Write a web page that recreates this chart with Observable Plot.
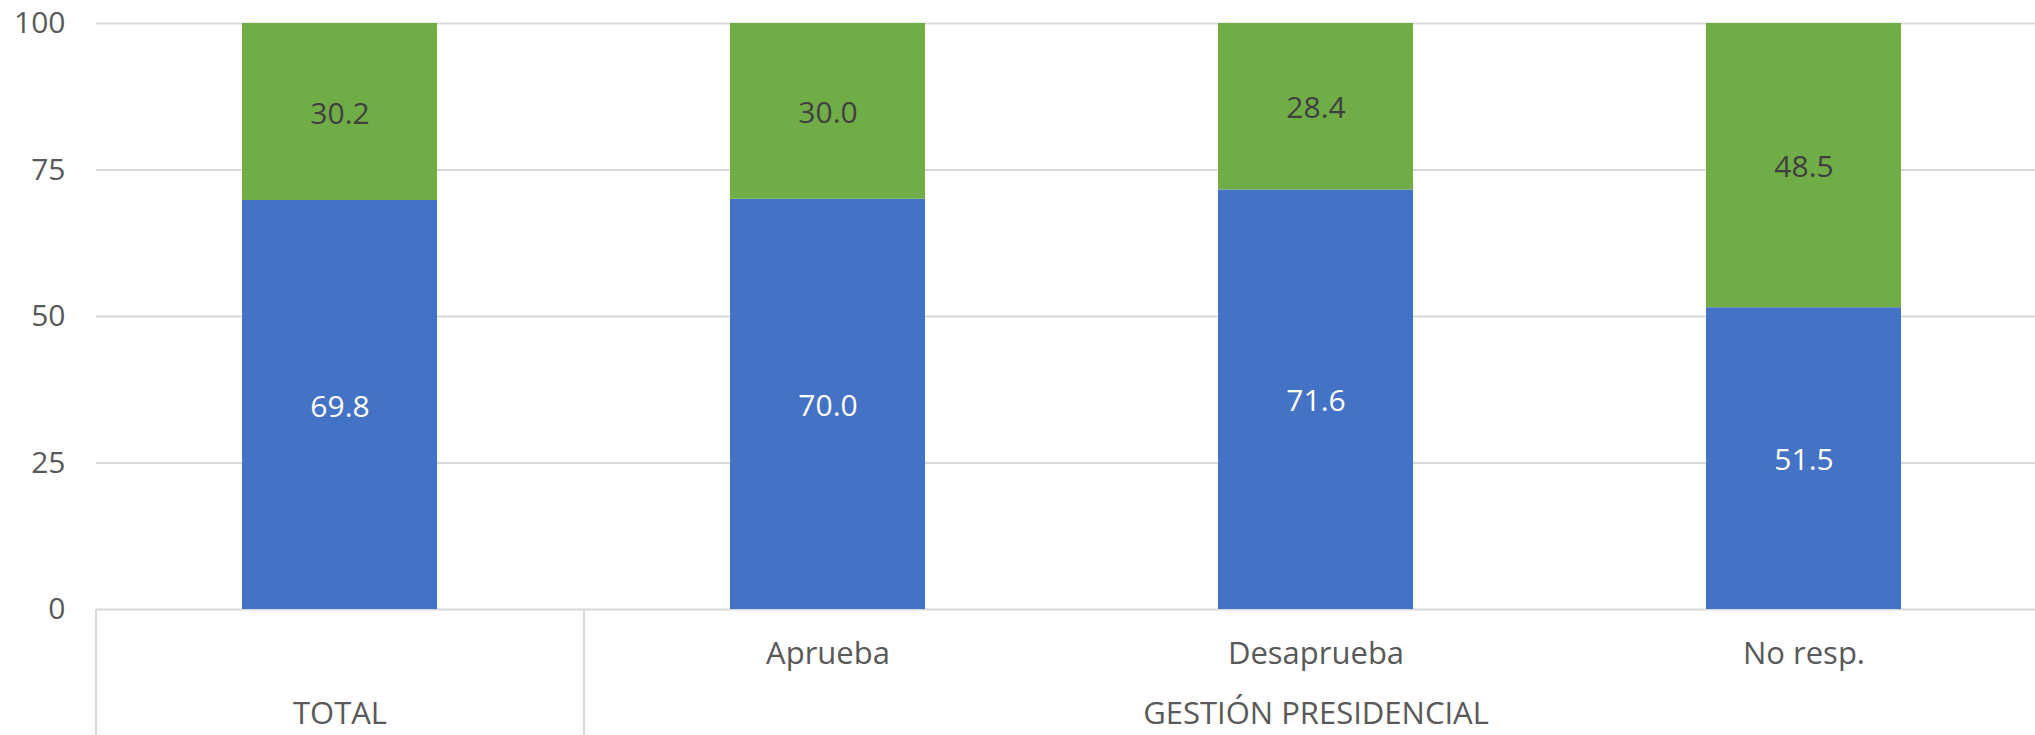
<!DOCTYPE html>
<html><head><meta charset="utf-8">
<script src="https://cdn.jsdelivr.net/npm/d3@7"></script>
<script src="https://cdn.jsdelivr.net/npm/@observablehq/plot@0.6"></script>
<style>html,body{margin:0;padding:0;background:#fff} svg{display:block}</style>
</head><body><div id="chart"></div>
<script>
// ---- data ----
const categories = ["TOTAL", "Aprueba", "Desaprueba", "No resp."];
const groupOf = ["TOTAL", "GESTIÓN PRESIDENCIAL", "GESTIÓN PRESIDENCIAL", "GESTIÓN PRESIDENCIAL"];
const seriesNames = ["Serie 1", "Serie 2"];
const values1 = [69.8, 70.0, 71.6, 51.5];
const values2 = [30.2, 30.0, 28.4, 48.5];
const yTicks = [0, 25, 50, 75, 100];
const seriesColors = ["#4472C4", "#70AD47"];
const labelColors = ["#FFFFFF", "#404040"];

// ---- derived tables ----
const data = categories.flatMap((c, i) => [
  {category: c, series: seriesNames[0], value: values1[i]},
  {category: c, series: seriesNames[1], value: values2[i]}
]);
const groupNames = [...new Set(groupOf)];
const groups = groupNames.map(g => {
  const cats = categories.filter((c, i) => groupOf[i] === g);
  return {label: g, first: cats[0], middle: cats[Math.floor(cats.length / 2)]};
});

const xRange = [96, 2048];
const step = (xRange[1] - xRange[0]) / categories.length;
const fmt = d3.format(".1f");
const textColor = "#595959";
const gridColor = "#D9D9D9";

const valueLabels = seriesNames.map((s, k) =>
  Plot.text(data, Plot.filter(d => d.series === s, Plot.stackY({
    x: "category", y: "value", z: "series",
    text: d => fmt(d.value),
    fill: labelColors[k], fontSize: 30, dy: 2
  })))
);

const chart = Plot.plot({
  width: 2035, height: 735,
  marginTop: 23, marginBottom: 126, marginLeft: 96, marginRight: 0,
  style: {fontFamily: "'Open Sans', Lato, sans-serif", background: "white", overflow: "visible"},
  x: {domain: categories, range: xRange, paddingInner: 0.6, paddingOuter: 0.3, label: null, axis: null},
  y: {domain: [0, 100], label: null, axis: null},
  color: {domain: seriesNames, range: seriesColors},
  marks: [
    Plot.ruleY(yTicks, {stroke: gridColor, strokeWidth: 2}),
    Plot.barY(data, {x: "category", y: "value", fill: "series"}),
    ...valueLabels,
    Plot.axisY(yTicks, {tickSize: 0, tickPadding: 31, fontSize: 30, color: textColor, label: null}),
    Plot.axisX({tickSize: 0, tickPadding: 32, fontSize: 31, color: textColor, label: null,
      tickFormat: d => groupNames.includes(d) ? "" : d}),
    Plot.ruleX(groups, {x: "first", dx: -step / 2, y1: 0, y2: -22, stroke: gridColor, strokeWidth: 2}),
    Plot.text(groups, {x: "middle", text: "label", frameAnchor: "bottom", dy: 114, fontSize: 31, fill: textColor})
  ]
});
document.getElementById("chart").appendChild(chart);
</script>
</body></html>
